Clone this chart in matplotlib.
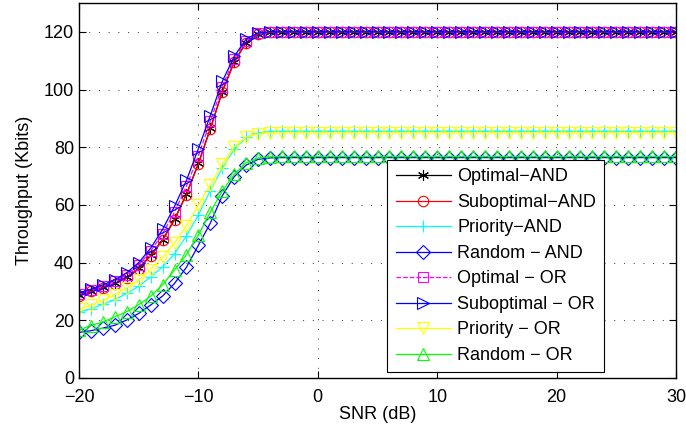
import numpy as np
import matplotlib.pyplot as plt

plt.rcParams["font.family"] = ["Liberation Sans", "DejaVu Sans"]

snr = np.arange(-20, 31)
n_flat = len(snr) - 17

# throughput (Kbits), -20 dB ... -4 dB, then flat
opt_and = [28.8, 30.2, 31.4, 32.8, 34.9, 38.0, 42.5, 47.9, 55.0, 63.8, 74.4, 86.5,
           99.3, 109.7, 116.3, 119.3, 119.8] + [120.0] * n_flat
subopt_and = [28.6, 30.0, 31.3, 32.7, 34.7, 37.8, 42.3, 47.7, 54.8, 63.6, 74.2, 86.3,
              99.1, 109.5, 116.2, 119.2, 119.8] + [120.0] * n_flat
prio_and = [22.8, 24.0, 25.5, 27.2, 29.3, 31.8, 35.0, 38.5, 43.0, 49.3, 56.5, 65.0,
            72.7, 79.3, 83.4, 85.0, 85.5] + [85.6] * n_flat
rand_and = [15.8, 16.4, 17.3, 18.3, 20.1, 22.4, 25.3, 28.4, 32.8, 38.4, 46.0, 53.7,
            63.2, 69.8, 73.8, 75.8, 76.3] + [76.4] * n_flat
opt_or = [29.2, 30.5, 31.9, 33.5, 35.8, 39.2, 44.0, 50.0, 57.5, 66.5, 77.0, 89.0,
          101.0, 110.7, 117.0, 119.5, 119.9] + [120.0] * n_flat
subopt_or = [29.5, 30.8, 32.3, 34.0, 36.5, 40.0, 45.0, 51.5, 59.5, 68.5, 79.5, 91.0,
             102.8, 111.5, 117.5, 119.6, 120.0] + [120.0] * n_flat
prio_or = [23.8, 25.2, 26.9, 28.9, 31.2, 34.0, 37.6, 41.9, 46.8, 52.8, 60.0, 67.0,
           74.2, 80.2, 83.5, 84.7, 85.0] + [85.1] * n_flat
rand_or = [16.6, 18.2, 19.4, 21.2, 23.0, 25.4, 28.3, 32.3, 37.5, 42.8, 49.6, 57.5,
           64.8, 70.6, 74.6, 76.3, 76.7] + [76.8] * n_flat

# MATLAB-style asterisk
asterisk = (6, 2, 0)

series = [
    ("Optimal\u2212AND", opt_and, "#000000", asterisk, "-"),
    ("Suboptimal\u2212AND", subopt_and, "#ff0000", "o", "-"),
    ("Priority\u2212AND", prio_and, "#00ffff", "+", "-"),
    ("Random \u2212 AND", rand_and, "#0000ff", "D", "-"),
    ("Optimal \u2212 OR", opt_or, "#ff00ff", "s", "--"),
    ("Suboptimal \u2212 OR", subopt_or, "#0000ff", ">", "-"),
    ("Priority \u2212 OR", prio_or, "#ffff00", "v", "-"),
    ("Random \u2212 OR", rand_or, "#00ff00", "^", "-"),
]
sizes = {"D": 7, "s": 6.5, "o": 7.5, "+": 9, ">": 8, "v": 8, "^": 8}

fig = plt.figure(figsize=(6.86, 4.34), dpi=100)
ax = fig.add_axes([79 / 686, 56 / 434, 597 / 686, 375 / 434])

for label, vals, col, mk, ls in series:
    ms = sizes.get(mk, 8) if isinstance(mk, str) else 8
    ax.plot(snr, vals, color=col, linestyle=ls, linewidth=0.9, marker=mk,
            markersize=ms, markerfacecolor="none", markeredgecolor=col,
            markeredgewidth=0.8, label=label)

ax.set_xlim(-20, 30)
ax.set_ylim(0, 130)
ax.set_xticks([-20, -10, 0, 10, 20, 30])
ax.set_yticks(np.arange(0, 121, 20))
ax.set_xticklabels(["\u221220", "\u221210", "0", "10", "20", "30"])
ax.grid(True, color="k", linestyle=(0, (1, 9)), linewidth=0.7, alpha=0.8)
ax.tick_params(direction="in", top=True, right=True, labelsize=13, length=5)
ax.tick_params(axis="x", pad=8)
for sp in ax.spines.values():
    sp.set_linewidth(1.0)

ax.set_xlabel("SNR (dB)", fontsize=13, labelpad=0)
ax.set_ylabel("Throughput (Kbits)", fontsize=13, labelpad=8)

leg = ax.legend(loc="lower right", bbox_to_anchor=(0.8794, 0.016), fontsize=13,
                frameon=True, fancybox=False, edgecolor="k", framealpha=1,
                handlelength=3.05, handletextpad=0.35, labelspacing=0.47,
                borderpad=0.45, borderaxespad=0)
leg.get_frame().set_linewidth(0.8)

fig.savefig("out.png", dpi=100, facecolor="white")
